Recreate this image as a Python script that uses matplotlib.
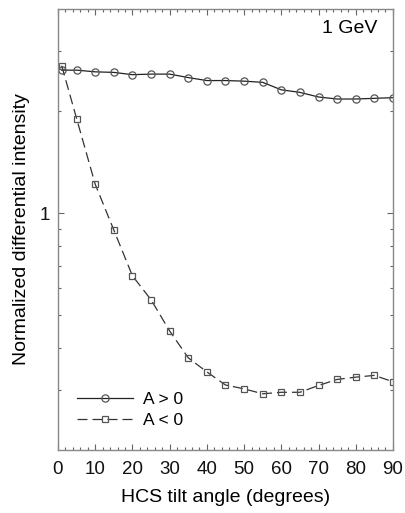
import numpy as np
import matplotlib
matplotlib.use("Agg")
import matplotlib.pyplot as plt
from matplotlib.ticker import MultipleLocator, FixedLocator, NullFormatter, FixedFormatter

plt.rcParams['font.family'] = ['Liberation Sans', 'DejaVu Sans']

# tilt angles (degrees)
tilt = [1, 5, 10, 15, 20, 25, 30, 35, 40, 45, 50, 55, 60, 65, 70, 75, 80, 85, 90]

# normalized intensities, A > 0 and A < 0
pos = [2.64, 2.64, 2.61, 2.60, 2.56, 2.57, 2.57, 2.51, 2.46, 2.46,
       2.45, 2.43, 2.31, 2.27, 2.20, 2.17, 2.17, 2.18, 2.19]
neg = [2.72, 1.90, 1.216, 0.891, 0.653, 0.555, 0.449, 0.374, 0.340, 0.311,
       0.303, 0.293, 0.296, 0.296, 0.310, 0.323, 0.328, 0.332, 0.318]

fig = plt.figure(figsize=(4.05, 5.13), dpi=100)
ax = fig.add_axes([0.1432, 0.1228, 0.827, 0.8597])

ax.plot(tilt, pos, color='#222222', lw=0.9, marker='o', ms=5.2,
        mfc='none', mec='#555555', mew=0.9, label='A > 0')
ax.plot(tilt, neg, color='#333333', lw=0.9, ls=(0, (8, 4)), marker='s', ms=4.5,
        mfc='none', mec='#555555', mew=0.9, label='A < 0')

ax.set_yscale('log')
ax.set_xlim(0, 90)
ax.set_ylim(0.2, 4)

ax.xaxis.set_major_locator(MultipleLocator(10))
ax.xaxis.set_minor_locator(MultipleLocator(2))
ax.yaxis.set_major_locator(FixedLocator([1]))
ax.yaxis.set_major_formatter(FixedFormatter(['1']))
ax.yaxis.set_minor_locator(FixedLocator([0.3, 0.4, 0.5, 0.6, 0.7, 0.8, 0.9, 2, 3]))
ax.yaxis.set_minor_formatter(NullFormatter())

ax.tick_params(which='both', direction='in', top=True, right=True,
               color='#666666', labelsize=13.5, labelcolor='#111111', pad=8)
ax.tick_params(axis='y', pad=6)
ax.tick_params(which='major', length=4, width=0.8)
ax.tick_params(which='minor', length=2, width=0.8)
for s in ax.spines.values():
    s.set_color('#888888')
    s.set_linewidth(1.0)

ax.set_xlabel('HCS tilt angle (degrees)', fontsize=14, labelpad=8)
ax.set_ylabel('Normalized differential intensity', fontsize=14, labelpad=7)

ax.text(0.955, 0.975, '1 GeV', transform=ax.transAxes, ha='right', va='top',
        fontsize=14)

ax.legend(loc='lower left', bbox_to_anchor=(0.01, 0.015), frameon=False,
          fontsize=12.5, handlelength=3.2, handletextpad=0.6, labelspacing=0.3)

fig.savefig('out.png', dpi=100)
